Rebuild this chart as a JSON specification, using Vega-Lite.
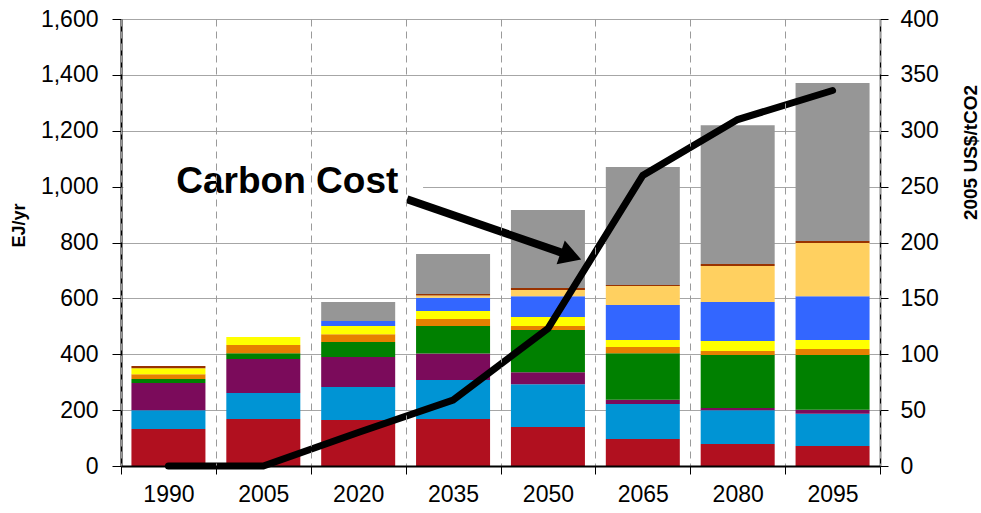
{
  "$schema": "https://vega.github.io/schema/vega-lite/v6.json",
  "width": 759,
  "height": 447,
  "autosize": {"type": "none"},
  "padding": {"left": 121, "top": 19, "right": 101, "bottom": 47},
  "background": "white",
  "config": {"font": "Liberation Sans", "view": {"stroke": null}},
  "datasets": {
    "energy": [
      {"year": "1990", "source": "Oil", "rank": 1, "ej": 132},
      {"year": "1990", "source": "Natural Gas", "rank": 2, "ej": 68},
      {"year": "1990", "source": "Coal", "rank": 3, "ej": 97},
      {"year": "1990", "source": "Biomass", "rank": 4, "ej": 14},
      {"year": "1990", "source": "Nuclear", "rank": 5, "ej": 17},
      {"year": "1990", "source": "Hydro", "rank": 6, "ej": 22},
      {"year": "1990", "source": "Geothermal", "rank": 9, "ej": 8},
      {"year": "2005", "source": "Oil", "rank": 1, "ej": 168},
      {"year": "2005", "source": "Natural Gas", "rank": 2, "ej": 93},
      {"year": "2005", "source": "Coal", "rank": 3, "ej": 122},
      {"year": "2005", "source": "Biomass", "rank": 4, "ej": 21},
      {"year": "2005", "source": "Nuclear", "rank": 5, "ej": 29},
      {"year": "2005", "source": "Hydro", "rank": 6, "ej": 29},
      {"year": "2020", "source": "Oil", "rank": 1, "ej": 165},
      {"year": "2020", "source": "Natural Gas", "rank": 2, "ej": 118},
      {"year": "2020", "source": "Coal", "rank": 3, "ej": 107},
      {"year": "2020", "source": "Biomass", "rank": 4, "ej": 54},
      {"year": "2020", "source": "Nuclear", "rank": 5, "ej": 28},
      {"year": "2020", "source": "Hydro", "rank": 6, "ej": 29},
      {"year": "2020", "source": "Wind", "rank": 7, "ej": 18},
      {"year": "2020", "source": "End-use Reduction", "rank": 10, "ej": 68},
      {"year": "2035", "source": "Oil", "rank": 1, "ej": 168},
      {"year": "2035", "source": "Natural Gas", "rank": 2, "ej": 140},
      {"year": "2035", "source": "Coal", "rank": 3, "ej": 95},
      {"year": "2035", "source": "Biomass", "rank": 4, "ej": 98},
      {"year": "2035", "source": "Nuclear", "rank": 5, "ej": 25},
      {"year": "2035", "source": "Hydro", "rank": 6, "ej": 29},
      {"year": "2035", "source": "Wind", "rank": 7, "ej": 47},
      {"year": "2035", "source": "Solar", "rank": 8, "ej": 8},
      {"year": "2035", "source": "Geothermal", "rank": 9, "ej": 6},
      {"year": "2035", "source": "End-use Reduction", "rank": 10, "ej": 143},
      {"year": "2050", "source": "Oil", "rank": 1, "ej": 140},
      {"year": "2050", "source": "Natural Gas", "rank": 2, "ej": 153},
      {"year": "2050", "source": "Coal", "rank": 3, "ej": 43},
      {"year": "2050", "source": "Biomass", "rank": 4, "ej": 151},
      {"year": "2050", "source": "Nuclear", "rank": 5, "ej": 14},
      {"year": "2050", "source": "Hydro", "rank": 6, "ej": 32},
      {"year": "2050", "source": "Wind", "rank": 7, "ej": 75},
      {"year": "2050", "source": "Solar", "rank": 8, "ej": 22},
      {"year": "2050", "source": "Geothermal", "rank": 9, "ej": 7},
      {"year": "2050", "source": "End-use Reduction", "rank": 10, "ej": 279},
      {"year": "2065", "source": "Oil", "rank": 1, "ej": 97},
      {"year": "2065", "source": "Natural Gas", "rank": 2, "ej": 125},
      {"year": "2065", "source": "Coal", "rank": 3, "ej": 15},
      {"year": "2065", "source": "Biomass", "rank": 4, "ej": 167},
      {"year": "2065", "source": "Nuclear", "rank": 5, "ej": 22},
      {"year": "2065", "source": "Hydro", "rank": 6, "ej": 25},
      {"year": "2065", "source": "Wind", "rank": 7, "ej": 125},
      {"year": "2065", "source": "Solar", "rank": 8, "ej": 68},
      {"year": "2065", "source": "Geothermal", "rank": 9, "ej": 4},
      {"year": "2065", "source": "End-use Reduction", "rank": 10, "ej": 422},
      {"year": "2080", "source": "Oil", "rank": 1, "ej": 79},
      {"year": "2080", "source": "Natural Gas", "rank": 2, "ej": 121},
      {"year": "2080", "source": "Coal", "rank": 3, "ej": 8},
      {"year": "2080", "source": "Biomass", "rank": 4, "ej": 189},
      {"year": "2080", "source": "Nuclear", "rank": 5, "ej": 15},
      {"year": "2080", "source": "Hydro", "rank": 6, "ej": 35},
      {"year": "2080", "source": "Wind", "rank": 7, "ej": 140},
      {"year": "2080", "source": "Solar", "rank": 8, "ej": 129},
      {"year": "2080", "source": "Geothermal", "rank": 9, "ej": 7},
      {"year": "2080", "source": "End-use Reduction", "rank": 10, "ej": 497},
      {"year": "2095", "source": "Oil", "rank": 1, "ej": 72},
      {"year": "2095", "source": "Natural Gas", "rank": 2, "ej": 115},
      {"year": "2095", "source": "Coal", "rank": 3, "ej": 14},
      {"year": "2095", "source": "Biomass", "rank": 4, "ej": 196},
      {"year": "2095", "source": "Nuclear", "rank": 5, "ej": 22},
      {"year": "2095", "source": "Hydro", "rank": 6, "ej": 32},
      {"year": "2095", "source": "Wind", "rank": 7, "ej": 157},
      {"year": "2095", "source": "Solar", "rank": 8, "ej": 190},
      {"year": "2095", "source": "Geothermal", "rank": 9, "ej": 7},
      {"year": "2095", "source": "End-use Reduction", "rank": 10, "ej": 566}
    ],
    "cost": [
      {"year": "1990", "usd": 0},
      {"year": "2005", "usd": 0},
      {"year": "2020", "usd": 30},
      {"year": "2035", "usd": 59},
      {"year": "2050", "usd": 123},
      {"year": "2065", "usd": 260},
      {"year": "2080", "usd": 310},
      {"year": "2095", "usd": 336}
    ],
    "note": [{"xa": "2005", "label": "Carbon Cost", "ya": 1018}],
    "arrow": [{"xa": "2035", "xb": "2050", "ya": 955, "yb": 762}],
    "head": [{"xa": "2050", "ya": 752}],
    "box": [{"xa": "1990", "xb": "2035", "ya": 1167, "yb": 888}]
  },
  "layer": [
    {
      "layer": [
        {
          "data": {"name": "box"},
          "mark": {"type": "rect", "color": "white", "xOffset": -45, "x2Offset": -30},
          "encoding": {
            "x": {"field": "xa", "type": "ordinal"},
            "x2": {"field": "xb"},
            "y": {"field": "ya", "type": "quantitative"},
            "y2": {"field": "yb"}
          }
        },
        {
          "data": {"name": "energy"},
          "mark": {"type": "bar", "width": {"band": 0.78}},
          "encoding": {
            "x": {
              "field": "year",
              "type": "ordinal",
              "scale": {"paddingInner": 0, "paddingOuter": 0},
              "axis": {
                "title": null,
                "tickBand": "extent",
                "grid": true,
                "gridDash": [7, 5],
                "gridColor": "#9a9a9a",
                "gridWidth": 1,
                "tickSize": 8,
                "tickColor": "black",
                "domainColor": "black",
                "domainWidth": 2,
                "labelFontSize": 23,
                "labelColor": "black",
                "labelPadding": 20,
                "labelAngle": 0,
                "labelAlign": "center"
              }
            },
            "y": {
              "field": "ej",
              "type": "quantitative",
              "stack": "zero",
              "scale": {"domain": [0, 1600], "nice": false},
              "axis": {
                "title": "EJ/yr",
                "values": [0, 200, 400, 600, 800, 1000, 1200, 1400, 1600],
                "format": ",d",
                "labelFontSize": 23,
                "labelColor": "black",
                "labelPadding": 14,
                "tickSize": 9,
                "tickColor": "black",
                "domainColor": "black",
                "domainWidth": 2,
                "grid": true,
                "gridColor": "#a6a6a6",
                "gridWidth": 1,
                "titleFontSize": 18,
                "titleFontWeight": "bold",
                "titleColor": "black",
                "titleX": -97,
                "titleY": 206,
                "titleBaseline": "alphabetic",
                "titleAngle": 270
              }
            },
            "color": {
              "field": "source",
              "type": "nominal",
              "scale": {
                "domain": ["Oil", "Natural Gas", "Coal", "Biomass", "Nuclear", "Hydro", "Wind", "Solar", "Geothermal", "End-use Reduction"],
                "range": ["#B1101F", "#0094D4", "#7B0B5B", "#008000", "#E68000", "#FFFF00", "#3366FF", "#FFD060", "#993300", "#969696"]
              },
              "legend": null
            },
            "order": {"field": "rank", "type": "quantitative", "sort": "ascending"}
          }
        },
        {
          "data": {"name": "note"},
          "mark": {"type": "text", "fontSize": 37, "fontWeight": "bold", "align": "center", "baseline": "middle", "dx": 24, "color": "black"},
          "encoding": {
            "x": {"field": "xa", "type": "ordinal"},
            "y": {"field": "ya", "type": "quantitative"},
            "text": {"field": "label"}
          }
        },
        {
          "data": {"name": "arrow"},
          "mark": {"type": "rule", "strokeWidth": 8, "color": "black", "xOffset": -46, "x2Offset": 15},
          "encoding": {
            "x": {"field": "xa", "type": "ordinal"},
            "x2": {"field": "xb"},
            "y": {"field": "ya", "type": "quantitative"},
            "y2": {"field": "yb"}
          }
        },
        {
          "data": {"name": "head"},
          "mark": {"type": "point", "shape": "triangle-right", "size": 625, "angle": 19, "filled": true, "color": "black", "opacity": 1, "strokeWidth": 0, "xOffset": 23},
          "encoding": {
            "x": {"field": "xa", "type": "ordinal"},
            "y": {"field": "ya", "type": "quantitative"}
          }
        }
      ]
    },
    {
      "data": {"name": "cost"},
      "mark": {"type": "line", "color": "black", "strokeWidth": 7, "strokeCap": "round", "strokeJoin": "miter"},
      "encoding": {
        "x": {"field": "year", "type": "ordinal"},
        "y": {
          "field": "usd",
          "type": "quantitative",
          "scale": {"domain": [0, 400], "nice": false},
          "axis": {
            "orient": "right",
            "title": "2005 US$/tCO2",
            "values": [0, 50, 100, 150, 200, 250, 300, 350, 400],
            "grid": false,
            "labelFontSize": 23,
            "labelColor": "black",
            "labelPadding": 12,
            "tickSize": 8,
            "tickColor": "black",
            "domainColor": "black",
            "domainWidth": 1.5,
            "titleFontSize": 19,
            "titleFontWeight": "bold",
            "titleColor": "black",
            "titleAngle": 270,
            "titleX": 96,
            "titleY": 133,
            "titleBaseline": "alphabetic"
          }
        }
      }
    }
  ],
  "resolve": {"scale": {"y": "independent"}, "axis": {"y": "independent"}}
}
